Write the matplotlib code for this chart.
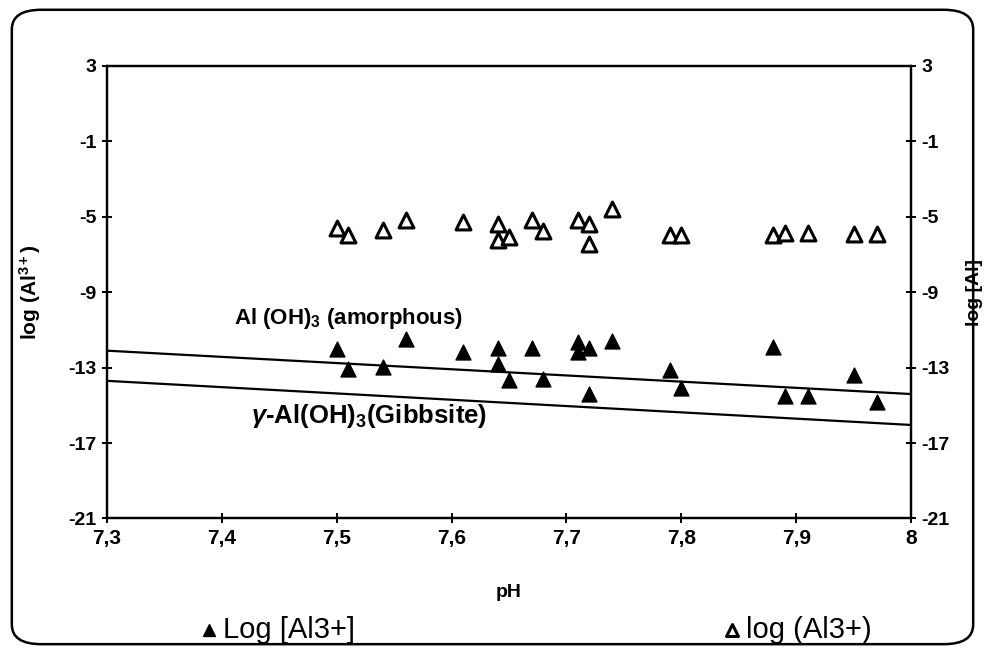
import matplotlib.pyplot as plt
from matplotlib.patches import FancyBboxPatch

plt.rcParams["font.family"] = ["Liberation Sans", "DejaVu Sans"]
plt.rcParams["mathtext.fontset"] = "custom"
plt.rcParams["mathtext.rm"] = "Liberation Sans:bold"
plt.rcParams["mathtext.it"] = "Liberation Sans:bold:italic"
plt.rcParams["mathtext.bf"] = "Liberation Sans:bold"

# filled triangles: Log [Al3+]
ph_filled = [7.50, 7.51, 7.54, 7.56, 7.61, 7.64, 7.64, 7.65, 7.67, 7.68, 7.71,
             7.71, 7.72, 7.72, 7.74, 7.79, 7.80, 7.88, 7.89, 7.91, 7.95, 7.97]
log_al_filled = [-12.01, -13.07, -12.98, -11.48, -12.18, -11.97, -12.81, -13.66,
                 -11.97, -13.58, -11.65, -12.18, -11.97, -14.40, -11.57, -13.11,
                 -14.10, -11.92, -14.49, -14.53, -13.39, -14.84]

# open triangles: log (Al3+)
ph_open = [7.50, 7.51, 7.54, 7.56, 7.61, 7.64, 7.64, 7.65, 7.67, 7.68, 7.71,
           7.72, 7.72, 7.74, 7.79, 7.80, 7.88, 7.89, 7.91, 7.95, 7.97]
log_al_open = [-5.61, -5.98, -5.71, -5.18, -5.27, -5.36, -6.24, -6.06, -5.18,
               -5.77, -5.18, -5.36, -6.42, -4.56, -5.94, -5.94, -5.98, -5.85,
               -5.85, -5.89, -5.89]

# solubility lines (end points)
line_ph = [7.3, 8.0]
amorphous = [-12.1, -14.4]
gibbsite = [-13.7, -16.04]

x_ticks = [7.3, 7.4, 7.5, 7.6, 7.7, 7.8, 7.9, 8.0]
x_labels = ["7,3", "7,4", "7,5", "7,6", "7,7", "7,8", "7,9", "8"]
y_ticks = [3, -1, -5, -9, -13, -17, -21]

fig = plt.figure(figsize=(9.85, 6.52), dpi=100)
ax = fig.add_axes([0.1086, 0.2048, 0.8163, 0.694])
ax2 = ax.twinx()

ax.plot(line_ph, amorphous, color="black", lw=1.6)
ax.plot(line_ph, gibbsite, color="black", lw=1.6)
filled = ax.scatter(ph_filled, log_al_filled, marker="^", s=115,
                    color="black", zorder=3)
opened = ax2.scatter(ph_open, log_al_open, marker="^", s=115,
                     facecolor="white", edgecolor="black", linewidths=2.2,
                     zorder=3)

for a in (ax, ax2):
    a.set_xlim(7.3, 8.0)
    a.set_ylim(-21, 3)
    a.set_yticks(y_ticks)
    a.set_yticklabels([str(v) for v in y_ticks], fontsize=14,
                      fontweight="bold")
    for s in a.spines.values():
        s.set_linewidth(1.6)
    a.tick_params(direction="inout", length=7, width=1.4, pad=4)

ax.set_xticks(x_ticks)
ax.set_xticklabels(x_labels, fontsize=15, fontweight="bold")

ax.set_xlabel("pH", fontsize=14, fontweight="bold", labelpad=26)
ax.set_ylabel("log (Al$^{3+}$)", fontsize=15, fontweight="bold", labelpad=18)
ax2.set_ylabel("log [Al]", fontsize=14, fontweight="bold", labelpad=12)

ax.text(7.51, -10.4, "Al (OH)$_3$ (amorphous)", fontsize=16,
        fontweight="bold", ha="center", va="center")
ax.text(7.528, -15.55, r"$\gamma$-Al(OH)$_3$(Gibbsite)", fontsize=18.5,
        fontweight="bold", ha="center", va="center")

fig.legend([filled, opened], ["Log [Al3+]", "log (Al3+)"], ncol=2,
           loc="center", bbox_to_anchor=(0.544, 0.034), frameon=False,
           fontsize=21, markerscale=0.8, handletextpad=0.2,
           columnspacing=12.6, handlelength=0.6)

# rounded chart border
border = FancyBboxPatch((0.012, 0.012), 0.976, 0.973,
                        boxstyle="round,pad=0,rounding_size=0.03",
                        transform=fig.transFigure, fill=False,
                        edgecolor="black", lw=1.8)
fig.patches.append(border)

fig.savefig("out.png", dpi=100)
